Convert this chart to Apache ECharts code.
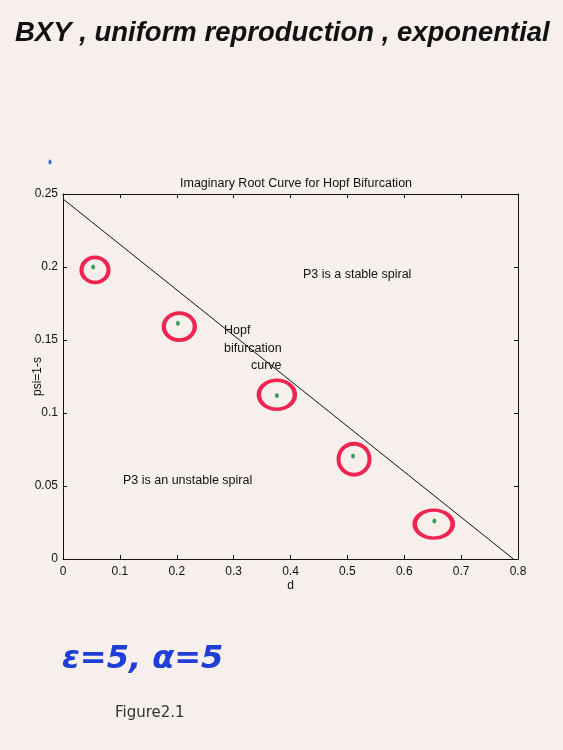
<!DOCTYPE html>
<html>
<head>
<meta charset="utf-8">
<script src="https://cdn.jsdelivr.net/npm/echarts@6/dist/echarts.min.js"></script>
<style>
html,body{margin:0;padding:0;background:#f6efec;}
#chart{width:563px;height:750px;}
</style>
</head>
<body>
<div id="chart"></div>
<script>
// ---- data ----
const xTicks = [0, 0.1, 0.2, 0.3, 0.4, 0.5, 0.6, 0.7, 0.8];
const yTicks = [0, 0.05, 0.1, 0.15, 0.2, 0.25];
const hopfCurve = [[0, 0.2466], [0.792, 0]];
const equilibriumPoints = [[0.053, 0.200], [0.202, 0.1615], [0.376, 0.112], [0.510, 0.0705], [0.653, 0.026]];
const ringCenters = [[0.0563, 0.198], [0.2045, 0.1592], [0.376, 0.1125], [0.5117, 0.0684], [0.6518, 0.0239]];
// ---- styles ----
const ringSizes = [[27, 25], [31, 27], [36, 29], [31, 31], [38, 28]];

const chart = echarts.init(document.getElementById('chart'), null, {renderer: 'canvas'});
const font = '"Liberation Sans", Arial, sans-serif';
const axisCommon = {
  min: 0,
  axisLine: {show: true, onZero: false, lineStyle: {color: '#111', width: 1}},
  axisTick: {show: true, inside: true, length: 4, lineStyle: {color: '#111'}},
  splitLine: {show: false}
};
const fmt = ticks => v => { const t = ticks.find(a => Math.abs(a - v) < 1e-9); return t === undefined ? '' : String(t); };
chart.setOption({
  backgroundColor: '#f6efec',
  animation: false,
  title: {
    text: 'Imaginary Root Curve for Hopf Bifurcation',
    left: 175, top: 172,
    textStyle: {fontFamily: font, fontSize: 12.5, fontWeight: 'normal', color: '#111'}
  },
  grid: {left: 63, right: 45, top: 194, bottom: 191},
  xAxis: [
    Object.assign({}, axisCommon, {
      type: 'value', max: 0.8, interval: 0.1, position: 'bottom',
      name: 'd', nameLocation: 'middle', nameGap: 21, nameMoveOverlap: false,
      nameTextStyle: {fontFamily: font, fontSize: 12, color: '#111'},
      axisLabel: {fontFamily: font, fontSize: 12, color: '#111', margin: 7, formatter: fmt(xTicks)}
    }),
    Object.assign({}, axisCommon, {
      type: 'value', max: 0.8, interval: 0.1, position: 'top', axisLabel: {show: false}
    })
  ],
  yAxis: [
    Object.assign({}, axisCommon, {
      type: 'value', max: 0.25, interval: 0.05, position: 'left',
      name: 'psi=1-s', nameLocation: 'middle', nameGap: 19, nameMoveOverlap: false,
      nameTextStyle: {fontFamily: font, fontSize: 12, color: '#111'},
      axisLabel: {fontFamily: font, fontSize: 12, color: '#111', margin: 5, formatter: fmt(yTicks)}
    }),
    Object.assign({}, axisCommon, {
      type: 'value', max: 0.25, interval: 0.05, position: 'right', axisLabel: {show: false}
    })
  ],
  series: [
    {
      type: 'line', data: hopfCurve, symbol: 'none', silent: true,
      lineStyle: {color: '#111', width: 1}
    },
    {
      type: 'scatter', silent: true,
      data: ringCenters.map((p, i) => ({value: p, symbolSize: ringSizes[i]})),
      symbol: 'circle',
      itemStyle: {color: 'rgba(0,0,0,0)', borderColor: '#ee1848', borderWidth: 4, opacity: 0.95}
    },
    {
      type: 'scatter', silent: true, data: equilibriumPoints,
      symbol: 'circle', symbolSize: [4, 5],
      itemStyle: {color: '#0c8a3c'}
    }
  ],
  graphic: [
    {type: 'text', left: 15, top: 20, style: {text: 'BXY , uniform reproduction , exponential',
      font: 'italic bold 27.5px "Liberation Sans", sans-serif', fill: '#111'}},
    {type: 'text', left: 303, top: 268, style: {text: 'P3 is a stable spiral', font: '12.5px ' + font, fill: '#111'}},
    {type: 'text', left: 123, top: 474, style: {text: 'P3 is an unstable spiral', font: '12.5px ' + font, fill: '#111'}},
    {type: 'text', left: 224, top: 324, style: {text: 'Hopf', font: '12.5px ' + font, fill: '#111'}},
    {type: 'text', left: 224, top: 342, style: {text: 'bifurcation', font: '12.5px ' + font, fill: '#111'}},
    {type: 'text', left: 251, top: 359, style: {text: 'curve', font: '12.5px ' + font, fill: '#111'}},
    {type: 'text', left: 62, top: 644, style: {text: 'ε=5, α=5',
      font: 'italic bold 32px "DejaVu Sans", sans-serif', fill: '#1f3ed6'}},
    {type: 'text', left: 115, top: 706, style: {text: 'Figure2.1',
      font: '15px "DejaVu Sans", sans-serif', fill: '#333'}},
    {type: 'ellipse', shape: {cx: 50, cy: 162, rx: 1.5, ry: 2.5}, style: {fill: '#2a6fd6'}}
  ]
});
</script>
</body>
</html>
